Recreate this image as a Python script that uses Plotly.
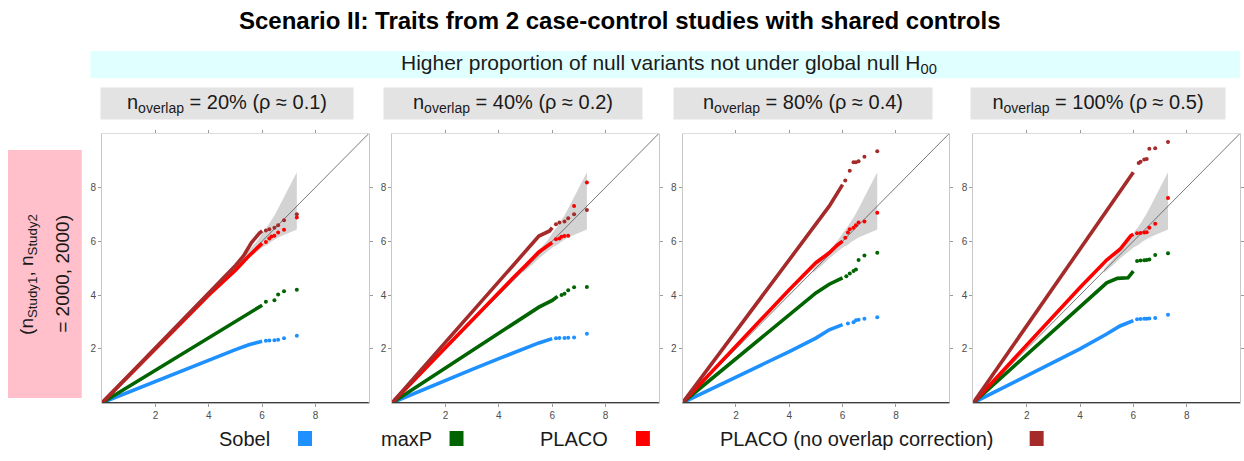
import plotly.graph_objects as go

W, H = 1244, 461

TITLE = "<b>Scenario II: Traits from 2 case-control studies with shared controls</b>"
BANNER = "Higher proportion of null variants not under global null H<sub>00</sub>"
PANEL_TITLES = [
    "n<sub>overlap</sub> = 20% (ρ ≈ 0.1)",
    "n<sub>overlap</sub> = 40% (ρ ≈ 0.2)",
    "n<sub>overlap</sub> = 80% (ρ ≈ 0.4)",
    "n<sub>overlap</sub> = 100% (ρ ≈ 0.5)",
]
ROW_LABEL_1 = "(n<sub>Study1</sub>, n<sub>Study2</sub>"
ROW_LABEL_2 = "= 2000, 2000)"
SERIES = ["Sobel", "maxP", "PLACO", "PLACO (no overlap correction)"]
COLORS = ["#1E90FF", "#006400", "#FF0000", "#A52A2A"]
TICKS = [2, 4, 6, 8]

# expected 95% band
band_x = [4.9, 5.2, 5.5, 5.8, 6.02, 6.2, 6.35, 6.46, 6.6, 6.82, 7.3]
band_hi = [4.97, 5.3, 5.66, 6.0, 6.32, 6.55, 6.79, 6.95, 7.21, 7.62, 8.56]
band_lo = [4.83, 5.08, 5.36, 5.6, 5.77, 5.87, 5.99, 6.05, 6.14, 6.25, 6.43]

diag = [0, 10]

# dense part of each QQ curve (per panel)
sobel_line_x = [[0, 1, 2, 3, 4, 5, 5.5, 6.0]] * 4
sobel_line_y = [
    [0, 0.4, 0.8, 1.19, 1.57, 1.97, 2.15, 2.28],
    [0, 0.42, 0.83, 1.24, 1.64, 2.05, 2.22, 2.38],
    [0, 0.47, 0.95, 1.42, 1.9, 2.4, 2.71, 2.9],
    [0, 0.5, 1.0, 1.5, 2.0, 2.55, 2.85, 3.05],
]
sobel_tail_x = [
    [6.14, 6.27, 6.46, 6.6, 6.82, 7.3],
    [6.14, 6.27, 6.46, 6.6, 6.82, 7.3],
    [6.2, 6.41, 6.5, 6.6, 6.82, 7.3],
    [6.14, 6.27, 6.41, 6.5, 6.6, 6.82, 7.3],
]
sobel_tail_y = [
    [2.3, 2.31, 2.32, 2.34, 2.39, 2.49],
    [2.39, 2.4, 2.4, 2.41, 2.42, 2.56],
    [2.94, 2.99, 3.06, 3.08, 3.12, 3.17],
    [3.1, 3.11, 3.12, 3.12, 3.13, 3.15, 3.27],
]

maxp_line_x = [
    [0, 1, 2, 3, 4, 5, 5.5, 6.0],
    [0, 1, 2, 3, 4, 5, 5.5, 6.0, 6.2],
    [0, 1, 2, 3, 4, 5, 5.5, 6.0],
    [0, 1, 2, 3, 4, 5, 5.4, 5.8, 6.0],
]
maxp_line_y = [
    [0, 0.6, 1.21, 1.8, 2.4, 3.0, 3.3, 3.62],
    [0, 0.64, 1.28, 1.92, 2.56, 3.2, 3.55, 3.8, 3.95],
    [0, 0.82, 1.64, 2.46, 3.28, 4.08, 4.4, 4.64],
    [0, 0.89, 1.78, 2.67, 3.56, 4.45, 4.62, 4.64, 4.89],
]
maxp_tail_x = [
    [6.14, 6.46, 6.6, 6.82, 7.3],
    [6.35, 6.46, 6.6, 6.82, 7.3],
    [6.14, 6.27, 6.41, 6.5, 6.6, 6.82, 7.3],
    [6.14, 6.27, 6.41, 6.5, 6.6, 6.82, 7.3],
]
maxp_tail_y = [
    [3.75, 3.81, 4.02, 4.14, 4.2],
    [4.0, 4.05, 4.18, 4.29, 4.3],
    [4.7, 4.8, 4.89, 4.95, 5.3, 5.47, 5.57],
    [5.26, 5.28, 5.29, 5.3, 5.32, 5.49, 5.55],
]

placo_line_x = [
    [0, 1, 2, 3, 4, 5, 5.5, 6.0],
    [0, 1, 2, 3, 4, 4.5, 5, 5.5, 6.0],
    [0, 1, 2, 3, 4, 5, 5.5, 5.8, 6.0],
    [0, 1, 2, 3, 4, 5, 5.5, 5.9, 6.0],
]
placo_line_y = [
    [0, 1, 2, 3, 4, 4.92, 5.45, 5.92],
    [0, 1.03, 2.05, 3.08, 4.1, 4.6, 5.1, 5.6, 5.95],
    [0, 1.05, 2.1, 3.15, 4.2, 5.2, 5.57, 5.85, 6.0],
    [0, 1.07, 2.14, 3.2, 4.28, 5.3, 5.7, 6.2, 6.26],
]
placo_tail_x = [
    [6.14, 6.27, 6.35, 6.46, 6.6, 6.82, 7.3],
    [6.14, 6.27, 6.35, 6.46, 6.6, 6.82, 7.3],
    [6.1, 6.2, 6.27, 6.41, 6.5, 6.6, 6.82, 7.3],
    [6.14, 6.27, 6.41, 6.5, 6.6, 6.82, 7.3],
]
placo_tail_y = [
    [5.97, 6.1, 6.17, 6.2, 6.32, 6.42, 6.88],
    [6.07, 6.1, 6.16, 6.19, 6.2, 7.31, 8.18],
    [6.13, 6.32, 6.44, 6.5, 6.59, 6.69, 6.73, 7.06],
    [6.29, 6.3, 6.32, 6.33, 6.5, 6.65, 7.6],
]

noadj_line_x = [
    [0, 1, 2, 3, 4, 4.5, 5, 5.3, 5.6, 5.9, 6.0],
    [0, 1, 2, 3, 4, 4.5, 5, 5.5, 5.9, 6.0],
    [0, 1, 2, 3, 4, 5, 5.5, 6.0],
    [0, 1, 2, 3, 4, 5, 5.5, 6.0],
]
noadj_line_y = [
    [0, 1.02, 2.03, 3.05, 4.07, 4.6, 5.1, 5.45, 5.95, 6.3, 6.38],
    [0, 1.12, 2.24, 3.36, 4.48, 5.07, 5.6, 6.19, 6.38, 6.5],
    [0, 1.33, 2.66, 4.0, 5.33, 6.66, 7.3, 8.1],
    [0, 1.43, 2.86, 4.29, 5.72, 7.15, 7.85, 8.56],
]
noadj_tail_x = [
    [6.14, 6.27, 6.46, 6.6, 6.82, 7.3],
    [6.14, 6.27, 6.46, 6.6, 6.82, 7.3],
    [6.1, 6.27, 6.41, 6.5, 6.6, 6.82, 7.3],
    [6.2, 6.27, 6.41, 6.5, 6.6, 6.82, 7.3],
]
noadj_tail_y = [
    [6.4, 6.44, 6.5, 6.59, 6.78, 7.0],
    [6.63, 6.69, 6.73, 6.85, 7.0, 7.16],
    [8.25, 8.62, 8.93, 8.93, 8.97, 9.14, 9.34],
    [8.9, 8.95, 9.03, 9.05, 9.43, 9.45, 9.68],
]

series_data = [
    (sobel_line_x, sobel_line_y, sobel_tail_x, sobel_tail_y),
    (maxp_line_x, maxp_line_y, maxp_tail_x, maxp_tail_y),
    (placo_line_x, placo_line_y, placo_tail_x, placo_tail_y),
    (noadj_line_x, noadj_line_y, noadj_tail_x, noadj_tail_y),
]

# ---------------- layout geometry (pixels) ----------------
panel_left = [102.5, 393.5, 684.8, 976.5]
panel_w = 267.5
plot_top, plot_bot = 133.5, 402.7
strip_cx = [228, 515, 806, 1102]
strip_w = [250, 256, 256, 252]
legend_text_x = [218, 380, 540, 720]
legend_sq_x = [299, 451, 638, 1033]
FONT = "Liberation Sans"


def px(x):
    return x / W


def py(y):
    return 1 - y / H


fig = go.Figure()
shapes = []
annotations = []

for p in range(4):
    xa = "x" if p == 0 else f"x{p+1}"
    ya = "y" if p == 0 else f"y{p+1}"
    # confidence band
    fig.add_trace(go.Scatter(
        x=band_x + band_x[::-1], y=band_hi + band_lo[::-1], fill="toself",
        fillcolor="#d3d3d3", line=dict(width=0), mode="lines",
        hoverinfo="skip", showlegend=False, xaxis=xa, yaxis=ya))
    # diagonal
    fig.add_trace(go.Scatter(
        x=diag, y=diag, mode="lines", line=dict(color="#555555", width=0.8),
        hoverinfo="skip", showlegend=False, xaxis=xa, yaxis=ya))
    for s, (lx, ly, tx, ty) in enumerate(series_data):
        fig.add_trace(go.Scatter(
            x=lx[p], y=ly[p], mode="lines", name=SERIES[s],
            line=dict(color=COLORS[s], width=3.6),
            showlegend=False, xaxis=xa, yaxis=ya))
        fig.add_trace(go.Scatter(
            x=tx[p], y=ty[p], mode="markers", name=SERIES[s],
            marker=dict(color=COLORS[s], size=4),
            showlegend=False, xaxis=xa, yaxis=ya))

    dom_x = [px(panel_left[p]), px(panel_left[p] + panel_w)]
    dom_y = [py(plot_bot), py(plot_top)]
    axis_common = dict(range=[0, 10], tickvals=TICKS, ticks="outside",
                       ticklen=3, tickcolor="#9a9a9a", showgrid=False,
                       zeroline=False, showline=True, mirror="ticks",
                       tickfont=dict(family=FONT, size=10, color="#4d4d4d"),
                       fixedrange=True)
    xkey = "xaxis" if p == 0 else f"xaxis{p+1}"
    ykey = "yaxis" if p == 0 else f"yaxis{p+1}"
    fig.update_layout(**{
        xkey: dict(axis_common, domain=dom_x, anchor=ya, linecolor="#dcdcdc",
                   linewidth=1),
        ykey: dict(axis_common, domain=dom_y, anchor=xa, linecolor="#c8c8c8",
                   linewidth=1),
    })
    # dark bottom axis line
    shapes.append(dict(type="line", xref=f"{xa} domain", yref=f"{ya} domain",
                       x0=0, x1=1, y0=0, y1=0,
                       line=dict(color="#3c3c3c", width=1.2)))
    # strip label
    annotations.append(dict(
        text=PANEL_TITLES[p], x=px(strip_cx[p]), y=py(103.5), xref="paper",
        yref="paper", xanchor="center", yanchor="middle", showarrow=False,
        width=strip_w[p], height=29, bgcolor="#e3e3e3",
        font=dict(family=FONT, size=20, color="#1a1a1a")))

# banner
shapes.append(dict(type="rect", xref="paper", yref="paper", x0=px(90.7), x1=1,
                   y0=py(78.3), y1=py(51), fillcolor="#e0ffff",
                   line=dict(width=0), layer="below"))
annotations.append(dict(text=BANNER, x=px(671), y=py(64.5), xref="paper",
                        yref="paper", xanchor="center", yanchor="middle",
                        showarrow=False,
                        font=dict(family=FONT, size=21, color="#1a1a1a")))
# title
annotations.append(dict(text=TITLE, x=px(622), y=py(20), xref="paper",
                        yref="paper", xanchor="center", yanchor="middle",
                        showarrow=False,
                        font=dict(family=FONT, size=24, color="#000000")))
# row label
shapes.append(dict(type="rect", xref="paper", yref="paper", x0=px(8), x1=px(82),
                   y0=py(398), y1=py(150), fillcolor="#ffc0cb",
                   line=dict(width=0), layer="below"))
annotations.append(dict(text=ROW_LABEL_1, x=px(28), y=py(274), xref="paper",
                        yref="paper", xanchor="center", yanchor="middle",
                        textangle=-90, showarrow=False,
                        font=dict(family=FONT, size=19, color="#1a1a1a")))
annotations.append(dict(text=ROW_LABEL_2, x=px(62), y=py(274), xref="paper",
                        yref="paper", xanchor="center", yanchor="middle",
                        textangle=-90, showarrow=False,
                        font=dict(family=FONT, size=19, color="#1a1a1a")))
# custom legend (text then colour key)
for s in range(4):
    annotations.append(dict(text=SERIES[s], x=px(legend_text_x[s]), y=py(439),
                            xref="paper", yref="paper", xanchor="left",
                            yanchor="middle", showarrow=False,
                            font=dict(family=FONT, size=20, color="#1a1a1a")))
    shapes.append(dict(type="rect", xref="paper", yref="paper",
                       x0=px(legend_sq_x[s]), x1=px(legend_sq_x[s] + 14),
                       y0=py(446), y1=py(431), fillcolor=COLORS[s],
                       line=dict(width=0)))

fig.update_layout(width=W, height=H, margin=dict(l=0, r=0, t=0, b=0),
                  paper_bgcolor="white", plot_bgcolor="white",
                  shapes=shapes, annotations=annotations, showlegend=False)

fig.write_html("out.html")
